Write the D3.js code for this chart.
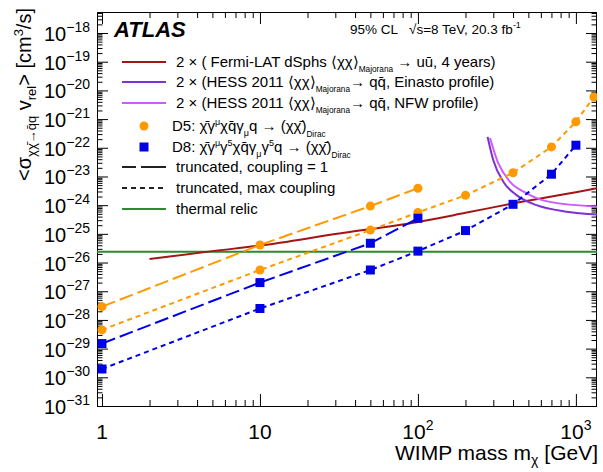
<!DOCTYPE html>
<html>
<head>
<meta charset="utf-8">
<script src="https://cdn.jsdelivr.net/npm/d3@7"></script>
<style>
  body { margin: 0; background: #fff; }
  text { font-family: "Liberation Sans", Arial, Helvetica, sans-serif; fill: #000; }
</style>
</head>
<body>
<svg id="chart" width="603" height="472"></svg>
<script>
// WIMP mass in GeV, <sigma v> in cm^3/s
const d5MassCoupling1 = [1, 10, 50, 100];
const d5SigmaCoupling1 = [2.9e-28, 4.1e-26, 9.3e-25, 3.9e-24];
const d5MassMax = [1, 10, 50, 100, 200, 400, 700, 1000, 1300];
const d5SigmaMax = [4.5e-29, 5.5e-27, 1.35e-25, 5.6e-25, 2.2e-24, 1.35e-23, 1.07e-22, 8.1e-22, 5.9e-21];

const d8MassCoupling1 = [1, 10, 50, 100];
const d8SigmaCoupling1 = [1.5e-29, 2.0e-27, 4.7e-26, 3.5e-25];
const d8MassMax = [1, 10, 50, 100, 200, 400, 700, 1000];
const d8SigmaMax = [1.95e-30, 2.5e-28, 5.5e-27, 2.5e-26, 1.3e-25, 1.07e-24, 1.2e-23, 1.23e-22];

const fermiMass = [2, 5, 10, 30, 100, 200, 400, 1000, 1400];
const fermiSigma = [1.32e-26, 2.5e-26, 3.9e-26, 9.8e-26, 2.6e-25, 5.4e-25, 1.15e-24, 2.8e-24, 4.0e-24];

const hessEinastoMass = [276, 300, 347, 421, 564, 873, 1454];
const hessEinastoSigma = [2.4e-22, 3.7e-23, 6.6e-24, 2.24e-24, 1.0e-24, 5.9e-25, 4.6e-25];
const hessNfwMass = [286, 322, 382, 488, 684, 1454];
const hessNfwSigma = [2.2e-22, 2.95e-23, 6.6e-24, 2.6e-24, 1.3e-24, 8.7e-25];

const thermalRelicSigma = 2.4e-26;

const xTickValues = [1, 10, 100, 1000];
const xTickExponents = [null, null, 2, 3];
const yTickExponents = [-31, -30, -29, -28, -27, -26, -25, -24, -23, -22, -21, -20, -19, -18];

const COLORS = {
  d5: '#ff9900',
  d8: '#0000e6',
  fermi: '#a31515',
  einasto: '#7f2fd6',
  nfw: '#cc5cff',
  thermal: '#2d8a2d',
};
const LONG_DASH = '14,5';
const SHORT_DASH = '5,4';

const plot = { left: 97, right: 597, top: 12, bottom: 406 };

const x = d3.scaleLog().domain([0.93, 1360]).range([plot.left, plot.right]);
const y = d3.scaleLog().domain([1e-31, 5.4e-18]).range([plot.bottom, plot.top]);

const svg = d3.select('#chart');

svg.append('defs')
  .append('clipPath')
  .attr('id', 'plot-clip')
  .append('rect')
  .attr('x', plot.left)
  .attr('y', plot.top)
  .attr('width', plot.right - plot.left)
  .attr('height', plot.bottom - plot.top);

drawAxes();
drawData();
drawLegend();

function minorTicks(scale, fromExp, toExp) {
  const [lo, hi] = scale.domain();
  const out = [];
  for (let e = fromExp; e <= toExp; e++) {
    for (let k = 2; k <= 9; k++) {
      const v = k * Math.pow(10, e);
      if (v > lo && v < hi) out.push(v);
    }
  }
  return out;
}

function tickGroup(axis, values, size, transform) {
  svg.append('g')
    .attr('transform', transform)
    .call(axis.tickValues(values).tickSizeInner(-size).tickSizeOuter(0).tickFormat(''))
    .call(g => g.select('.domain').remove())
    .selectAll('line')
    .attr('stroke', '#000');
}

function drawAxes() {
  const xMajor = xTickValues;
  const xMinor = minorTicks(x, 0, 3);
  const yMajor = yTickExponents.map(e => Math.pow(10, e));
  const yMinor = minorTicks(y, -31, -18);

  tickGroup(d3.axisBottom(x), xMajor, 12, `translate(0,${plot.bottom})`);
  tickGroup(d3.axisBottom(x), xMinor, 6, `translate(0,${plot.bottom})`);
  tickGroup(d3.axisTop(x), xMajor, 12, `translate(0,${plot.top})`);
  tickGroup(d3.axisTop(x), xMinor, 6, `translate(0,${plot.top})`);
  tickGroup(d3.axisLeft(y), yMajor, 11, `translate(${plot.left},0)`);
  tickGroup(d3.axisLeft(y), yMinor, 5.5, `translate(${plot.left},0)`);
  tickGroup(d3.axisRight(y), yMajor, 11, `translate(${plot.right},0)`);
  tickGroup(d3.axisRight(y), yMinor, 5.5, `translate(${plot.right},0)`);

  svg.append('rect')
    .attr('x', plot.left + 0.5)
    .attr('y', plot.top + 0.5)
    .attr('width', plot.right - plot.left - 1)
    .attr('height', plot.bottom - plot.top)
    .attr('fill', 'none')
    .attr('stroke', '#000');

  // x tick labels
  xTickValues.forEach((v, i) => {
    const t = svg.append('text')
      .attr('x', x(v))
      .attr('y', 439)
      .attr('text-anchor', 'middle')
      .style('font-size', '21px');
    t.append('tspan').text(xTickExponents[i] == null ? String(v) : '10');
    if (xTickExponents[i] != null) {
      t.append('tspan').attr('dy', -9).style('font-size', '14px').text(xTickExponents[i]);
    }
  });

  // y tick labels
  yTickExponents.forEach(e => {
    const t = svg.append('text')
      .attr('x', 90)
      .attr('y', y(Math.pow(10, e)) + 8)
      .attr('text-anchor', 'end')
      .style('font-size', '20px');
    t.append('tspan').text('10');
    t.append('tspan').attr('dy', -9).style('font-size', '14px').text(String(e).replace('-', '\u2212'));
  });

  // x title
  const xt = svg.append('text')
    .attr('x', 598)
    .attr('y', 460)
    .attr('text-anchor', 'end')
    .style('font-size', '21px');
  xt.append('tspan').text('WIMP mass m');
  xt.append('tspan').attr('dy', 5).style('font-size', '14px').text('\u03c7');
  xt.append('tspan').attr('dy', -5).text(' [GeV]');

  // y title
  const yt = svg.append('text')
    .attr('transform', 'translate(31,8) rotate(-90)')
    .attr('text-anchor', 'end')
    .style('font-size', '20px');
  yt.append('tspan').text('<\u03c3');
  yt.append('tspan').attr('dy', 5).style('font-size', '13px').text('\u03c7\u03c7\u0304\u2192q\u0304q');
  yt.append('tspan').attr('dy', -5).text(' v');
  yt.append('tspan').attr('dy', 5).style('font-size', '13px').text('rel');
  yt.append('tspan').attr('dy', -5).text('> [cm');
  yt.append('tspan').attr('dy', -8).style('font-size', '13px').text('3');
  yt.append('tspan').attr('dy', 8).text('/s]');
}

function zipPoints(masses, sigmas) {
  return masses.map((m, i) => [m, sigmas[i]]);
}

function drawData() {
  const g = svg.append('g').attr('clip-path', 'url(#plot-clip)');

  const straight = d3.line().x(d => x(d[0])).y(d => y(d[1]));
  const smooth = d3.line().x(d => x(d[0])).y(d => y(d[1])).curve(d3.curveMonotoneX);

  g.append('line')
    .attr('x1', plot.left)
    .attr('x2', plot.right)
    .attr('y1', y(thermalRelicSigma))
    .attr('y2', y(thermalRelicSigma))
    .attr('stroke', COLORS.thermal)
    .attr('stroke-width', 2);

  g.append('path')
    .attr('d', smooth(zipPoints(fermiMass, fermiSigma)))
    .attr('fill', 'none')
    .attr('stroke', COLORS.fermi)
    .attr('stroke-width', 2);

  g.append('path')
    .attr('d', smooth(zipPoints(hessNfwMass, hessNfwSigma)))
    .attr('fill', 'none')
    .attr('stroke', COLORS.nfw)
    .attr('stroke-width', 2);

  g.append('path')
    .attr('d', smooth(zipPoints(hessEinastoMass, hessEinastoSigma)))
    .attr('fill', 'none')
    .attr('stroke', COLORS.einasto)
    .attr('stroke-width', 2);

  const series = [
    { pts: zipPoints(d5MassCoupling1, d5SigmaCoupling1), color: COLORS.d5, dash: LONG_DASH, marker: 'circle' },
    { pts: zipPoints(d5MassMax, d5SigmaMax), color: COLORS.d5, dash: SHORT_DASH, marker: 'circle' },
    { pts: zipPoints(d8MassCoupling1, d8SigmaCoupling1), color: COLORS.d8, dash: LONG_DASH, marker: 'square' },
    { pts: zipPoints(d8MassMax, d8SigmaMax), color: COLORS.d8, dash: SHORT_DASH, marker: 'square' },
  ];

  series.forEach(s => {
    g.append('path')
      .attr('d', straight(s.pts))
      .attr('fill', 'none')
      .attr('stroke', s.color)
      .attr('stroke-width', 2)
      .attr('stroke-dasharray', s.dash);
  });

  series.forEach(s => {
    drawMarkers(g, s.pts, s.marker, s.color);
  });
}

function drawMarkers(g, pts, kind, color) {
  if (kind === 'circle') {
    g.selectAll(null)
      .data(pts)
      .join('circle')
      .attr('cx', d => x(d[0]))
      .attr('cy', d => y(d[1]))
      .attr('r', 4.5)
      .attr('fill', color);
  } else {
    g.selectAll(null)
      .data(pts)
      .join('rect')
      .attr('x', d => x(d[0]) - 4.5)
      .attr('y', d => y(d[1]) - 4.5)
      .attr('width', 9)
      .attr('height', 9)
      .attr('fill', color);
  }
}

function richText(parent, px, py, parts, size) {
  const t = parent.append('text')
    .attr('x', px)
    .attr('y', py)
    .style('font-size', `${size}px`);
  let shift = 0;
  parts.forEach(p => {
    const target = p.sub ? size * (p.low || 0.35) : p.sup ? -size * 0.4 : 0;
    const span = t.append('tspan').text(p.t);
    if (target !== shift) span.attr('dy', target - shift);
    if (p.sub || p.sup) span.style('font-size', `${size * (p.small || 0.6)}px`);
    shift = target;
  });
  return t;
}

function drawLegend() {
  const lg = svg.append('g');

  svg.append('text')
    .attr('x', 114)
    .attr('y', 37)
    .style('font-size', '22px')
    .style('font-weight', 'bold')
    .style('font-style', 'italic')
    .text('ATLAS');

  svg.append('text')
    .attr('x', 350)
    .attr('y', 34)
    .style('font-size', '13.5px')
    .text('95% CL');

  const energy = svg.append('text')
    .attr('x', 409)
    .attr('y', 34)
    .style('font-size', '13.5px');
  energy.append('tspan').text('\u221as=8 TeV, 20.3 fb');
  energy.append('tspan').attr('dy', -6).style('font-size', '9px').text('-1');

  const textX = 176;
  const size = 15;
  const majorana = { t: 'Majorana', sub: true, small: 0.55, low: 0.3 };
  const dirac = { t: 'Dirac', sub: true, small: 0.55, low: 0.38 };
  const rows = [
    { y: 62, line: COLORS.fermi, parts: [{ t: '2 \u00d7 ( Fermi-LAT dSphs \u27e8\u03c7\u03c7\u27e9' }, majorana, { t: ' \u2192 u\u016b, 4 years)' }] },
    { y: 82, line: COLORS.einasto, parts: [{ t: '2 \u00d7 (HESS 2011 \u27e8\u03c7\u03c7\u27e9' }, majorana, { t: '\u2192 qq\u0304, Einasto profile)' }] },
    { y: 103, line: COLORS.nfw, parts: [{ t: '2 \u00d7 (HESS 2011 \u27e8\u03c7\u03c7\u27e9' }, majorana, { t: '\u2192 qq\u0304, NFW profile)' }] },
    { y: 126, marker: 'circle', color: COLORS.d5, parts: [{ t: 'D5:  \u03c7\u0304\u03b3' }, { t: '\u03bc', sup: true }, { t: '\u03c7q\u0304\u03b3' }, { t: '\u03bc', sub: true }, { t: 'q \u2192 (\u03c7\u03c7\u0304)' }, dirac] },
    { y: 147, marker: 'square', color: COLORS.d8, parts: [{ t: 'D8:  \u03c7\u0304\u03b3' }, { t: '\u03bc', sup: true }, { t: '\u03b3' }, { t: '5', sup: true }, { t: '\u03c7q\u0304\u03b3' }, { t: '\u03bc', sub: true }, { t: '\u03b3' }, { t: '5', sup: true }, { t: 'q \u2192 (\u03c7\u03c7\u0304)' }, dirac] },
    { y: 167, line: '#222', dash: LONG_DASH + ',40', parts: [{ t: 'truncated, coupling = 1' }] },
    { y: 188, line: '#222', dash: SHORT_DASH, parts: [{ t: 'truncated, max coupling' }] },
    { y: 209, line: COLORS.thermal, parts: [{ t: 'thermal relic' }] },
  ];

  rows.forEach(r => {
    if (r.line) {
      lg.append('line')
        .attr('x1', 122)
        .attr('x2', 166)
        .attr('y1', r.y)
        .attr('y2', r.y)
        .attr('stroke', r.line)
        .attr('stroke-width', 2)
        .attr('stroke-dasharray', r.dash || null);
    } else {
      drawMarkers(lg, [[Math.sqrt(x.invert(122) * x.invert(166)), y.invert(r.y)]], r.marker, r.color);
    }
    richText(lg, r.marker ? 172 : textX, r.y + 5, r.parts, size);
  });
}
</script>
</body>
</html>
